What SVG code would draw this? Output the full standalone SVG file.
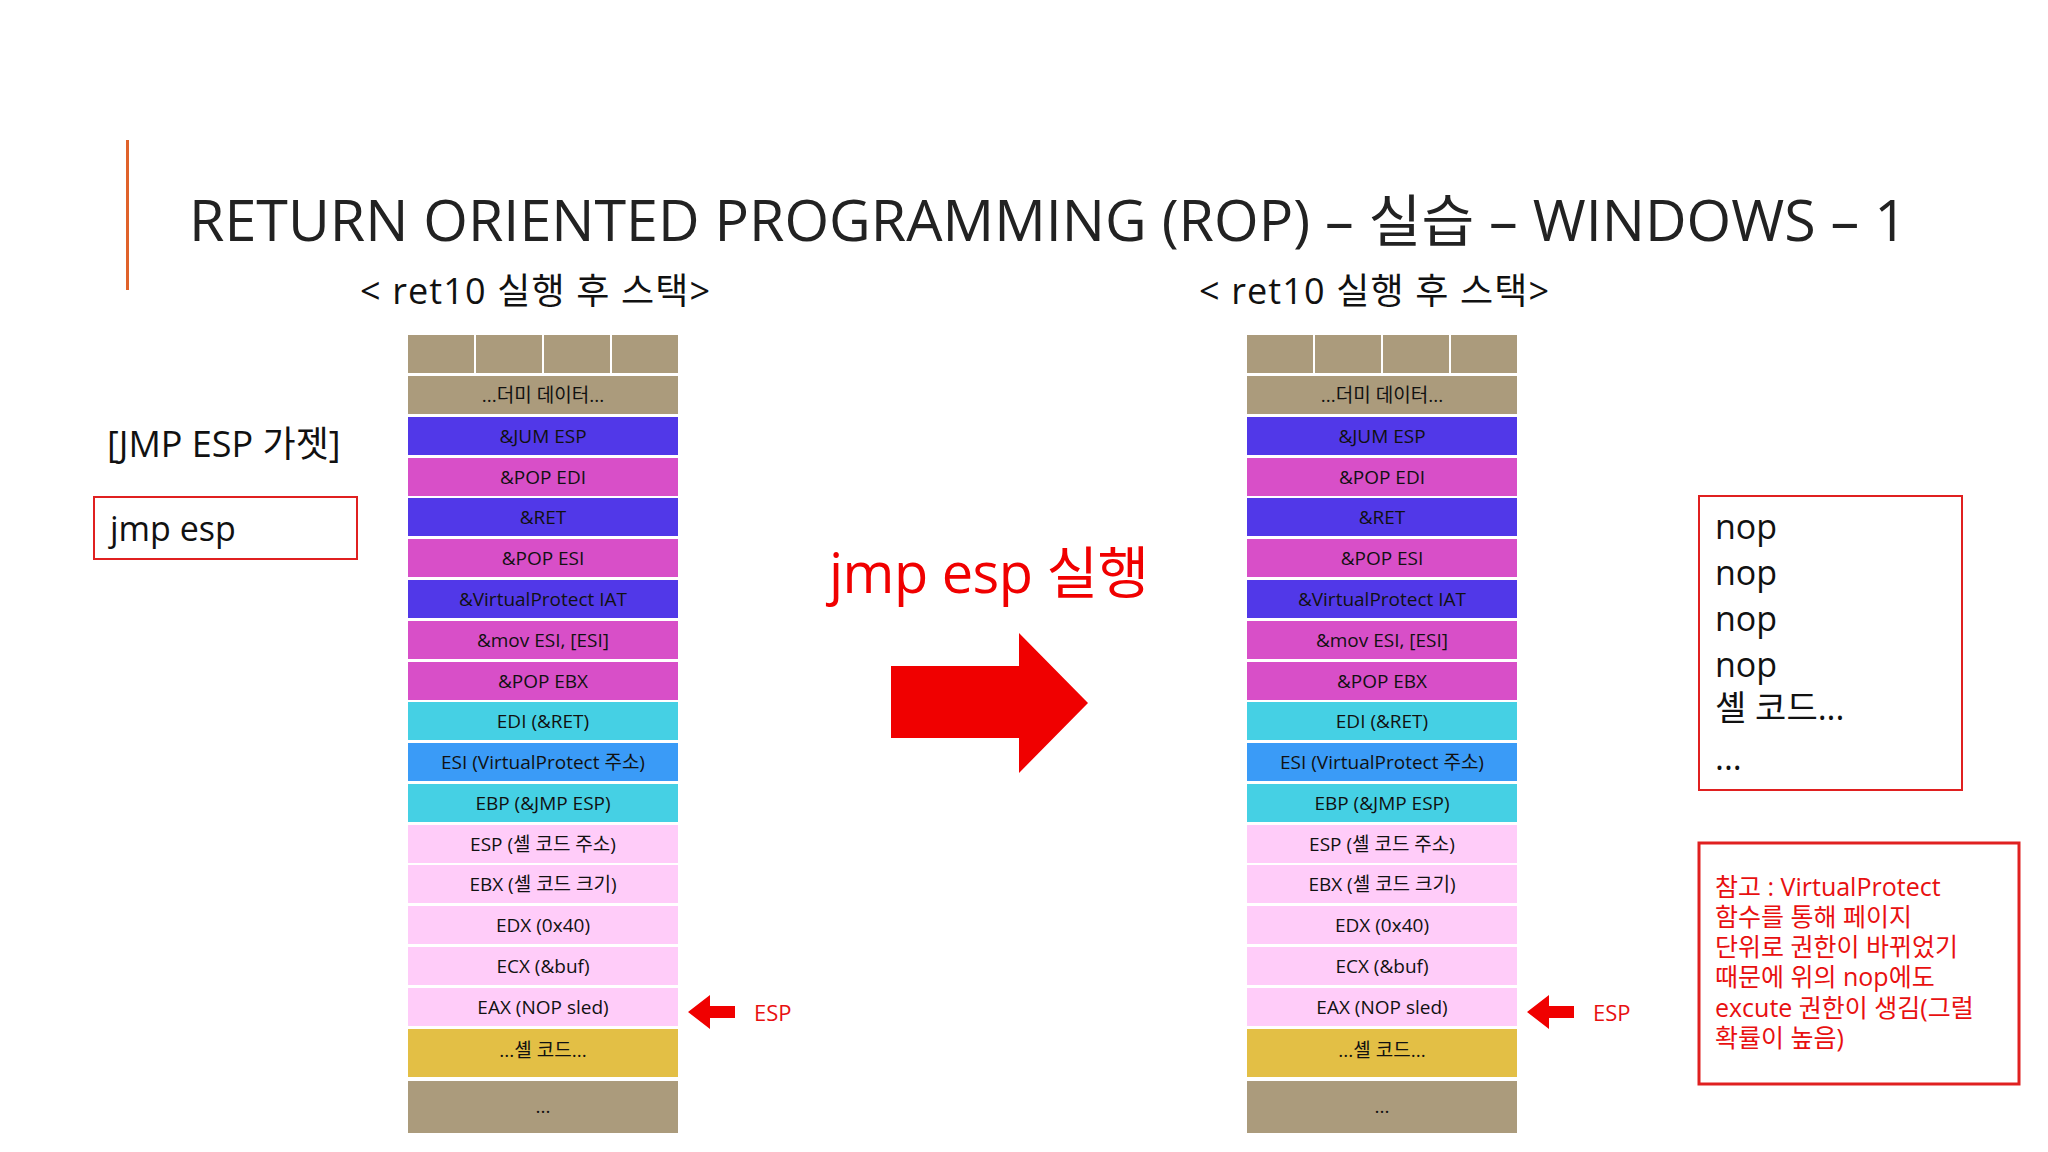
<svg xmlns="http://www.w3.org/2000/svg" width="2048" height="1152" viewBox="0 0 2048 1152">
<style>
text{font-family:"Open Sans","Noto Sans CJK KR",sans-serif;}
.c{font-size:19px;text-anchor:middle;fill:#111;}
.tan{fill:#AB9B7C}.bl{fill:#5138E8}.mg{fill:#D84FC8}.cy{fill:#45D0E4}.b2{fill:#3A9BF7}.pk{fill:#FFCCF9}.ye{fill:#E3BF45}
.red{fill:#F00000}
.esp{font-size:22px;fill:#E81010}
</style>
<rect width="2048" height="1152" fill="#fff"/>
<rect x="126" y="140" width="3" height="150" fill="#E0622A"/>
<text x="189" y="241" font-size="56" fill="#222" textLength="1718" lengthAdjust="spacingAndGlyphs">RETURN ORIENTED PROGRAMMING (ROP) – 실습 – WINDOWS – 1</text>
<text x="535" y="304" font-size="36" text-anchor="middle" fill="#111" textLength="350">&lt; ret10 실행 후 스택&gt;</text>
<text x="1374" y="304" font-size="36" text-anchor="middle" fill="#111" textLength="350">&lt; ret10 실행 후 스택&gt;</text>
<g id="gadget">
<text x="107" y="457" font-size="36" fill="#111">[JMP ESP 가젯]</text>
<rect x="94" y="497" width="263" height="62" fill="none" stroke="#E02020" stroke-width="2"/>
<text x="110" y="541" font-size="34" fill="#111">jmp esp</text>
</g>
<defs>
<g id="stack">
<rect x="0" y="0" width="66" height="38" class="tan"/><rect x="68" y="0" width="66" height="38" class="tan"/><rect x="136" y="0" width="66" height="38" class="tan"/><rect x="204" y="0" width="66" height="38" class="tan"/>
<rect y="41" width="270" height="38" class="tan"/><text x="135" y="67" class="c">...더미 데이터...</text>
<rect y="82" width="270" height="38" class="bl"/><text x="135" y="108" class="c">&amp;JUM ESP</text>
<rect y="123" width="270" height="38" class="mg"/><text x="135" y="149" class="c">&amp;POP EDI</text>
<rect y="163" width="270" height="38" class="bl"/><text x="135" y="189" class="c">&amp;RET</text>
<rect y="204" width="270" height="38" class="mg"/><text x="135" y="230" class="c">&amp;POP ESI</text>
<rect y="245" width="270" height="38" class="bl"/><text x="135" y="271" class="c">&amp;VirtualProtect IAT</text>
<rect y="286" width="270" height="38" class="mg"/><text x="135" y="312" class="c">&amp;mov ESI, [ESI]</text>
<rect y="327" width="270" height="38" class="mg"/><text x="135" y="353" class="c">&amp;POP EBX</text>
<rect y="367" width="270" height="38" class="cy"/><text x="135" y="393" class="c">EDI (&amp;RET)</text>
<rect y="408" width="270" height="38" class="b2"/><text x="135" y="434" class="c">ESI (VirtualProtect 주소)</text>
<rect y="449" width="270" height="38" class="cy"/><text x="135" y="475" class="c">EBP (&amp;JMP ESP)</text>
<rect y="490" width="270" height="38" class="pk"/><text x="135" y="516" class="c">ESP (셸 코드 주소)</text>
<rect y="530" width="270" height="38" class="pk"/><text x="135" y="556" class="c">EBX (셸 코드 크기)</text>
<rect y="571" width="270" height="38" class="pk"/><text x="135" y="597" class="c">EDX (0x40)</text>
<rect y="612" width="270" height="38" class="pk"/><text x="135" y="638" class="c">ECX (&amp;buf)</text>
<rect y="653" width="270" height="38" class="pk"/><text x="135" y="679" class="c">EAX (NOP sled)</text>
<rect y="694" width="270" height="48" class="ye"/><text x="135" y="722" class="c">...셸 코드...</text>
<rect y="746" width="270" height="52" class="tan"/><text x="135" y="778" class="c">...</text>
<path d="M0,17 L22,0 L22,11 L47,11 L47,23 L22,23 L22,34 Z" transform="translate(280,660)" class="red"/>
<text x="346" y="686" class="esp">ESP</text>
</g>
</defs>
<g id="stack-left"><use href="#stack" x="408" y="335"/></g>
<g id="stack-right"><use href="#stack" x="1247" y="335"/></g>
<g id="action">
<text x="829" y="593" font-size="56" fill="#F00000" textLength="320">jmp esp 실행</text>
<path d="M891,666 L1019,666 L1019,633 L1088,703 L1019,773 L1019,738 L891,738 Z" class="red"/>
</g>
<g id="nop">
<rect x="1699" y="496" width="263" height="294" fill="none" stroke="#E02020" stroke-width="2"/>
<text font-size="34" fill="#111"><tspan x="1715" y="539">nop</tspan><tspan x="1715" y="585">nop</tspan><tspan x="1715" y="631">nop</tspan><tspan x="1715" y="677">nop</tspan><tspan x="1715" y="720">셸 코드...</tspan><tspan x="1715" y="770">...</tspan></text>
</g>
<g id="note">
<rect x="1699" y="843" width="320" height="241" fill="none" stroke="#E02020" stroke-width="3"/>
<text font-size="25" fill="#E81010"><tspan x="1715" y="896">참고 : VirtualProtect</tspan><tspan x="1715" y="926">함수를 통해 페이지</tspan><tspan x="1715" y="956">단위로 권한이 바뀌었기</tspan><tspan x="1715" y="986">때문에 위의 nop에도</tspan><tspan x="1715" y="1017">excute 권한이 생김(그럴</tspan><tspan x="1715" y="1047">확률이 높음)</tspan></text>
</g>
</svg>
